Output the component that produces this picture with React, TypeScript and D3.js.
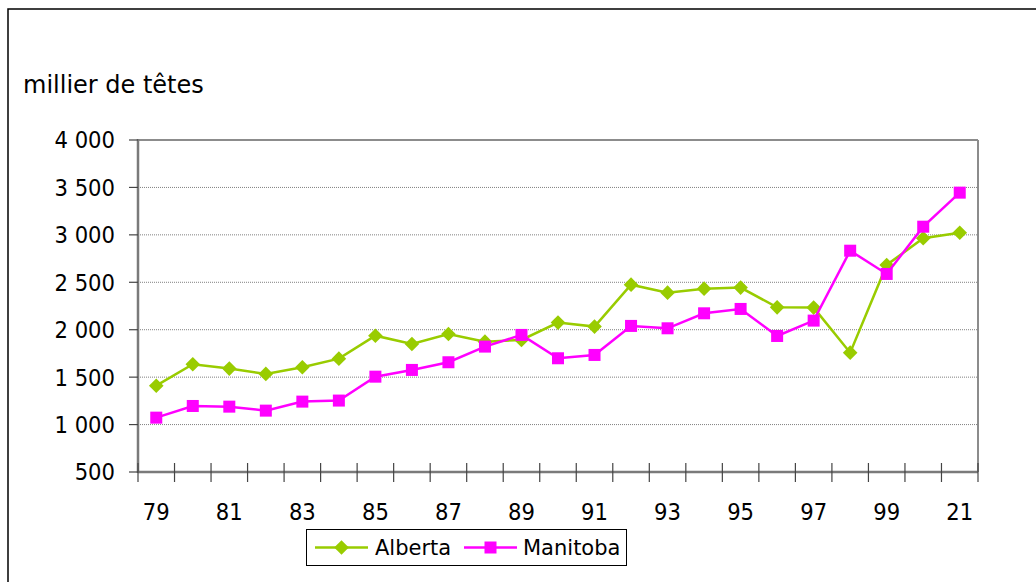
import React from "react";
import * as d3 from "d3";

const categories = ["79","80","81","82","83","84","85","86","87","88","89","90","91","92","93","94","95","96","97","98","99","20","21"];
const tickLabels = ["79","81","83","85","87","89","91","93","95","97","99","21"];
const alberta = [1410,1636,1590,1534,1604,1695,1937,1850,1955,1874,1892,2075,2033,2475,2391,2433,2444,2236,2233,1758,2683,2964,3023];
const manitoba = [1073,1196,1189,1147,1242,1253,1505,1576,1657,1822,1945,1699,1734,2040,2015,2173,2219,1934,2096,2833,2588,3086,3445];
const yTicks = [500,1000,1500,2000,2500,3000,3500,4000];
const yTitle = "millier de têtes";
const seriesNames = ["Alberta", "Manitoba"];
const seriesColors = ["#99CC00", "#FF00FF"];

const FONT = "'DejaVu Sans', Verdana, sans-serif";
const FONT_C = "'DejaVu Sans Condensed', 'DejaVu Sans', sans-serif";
const fmt = (v: number) => d3.format(",")(v).replace(/,/g, " ");

export default function App() {
  const W = 1036, H = 582;
  const left = 138, right = 978, top = 140, bottom = 472;
  const x = d3.scaleBand<string>().domain(categories).range([left, right]).padding(0);
  const y = d3.scaleLinear().domain([500, 4000]).range([bottom, top]);
  const cx = (c: string) => (x(c) as number) + x.bandwidth() / 2;
  const line = d3.line<number>().x((_, i) => cx(categories[i])).y((d) => y(d));
  const boundaries = d3.range(categories.length + 1).map((i) => left + i * x.bandwidth());
  const diamond = (px: number, py: number, r: number) =>
    `M${px},${py - r}L${px + r},${py}L${px},${py + r}L${px - r},${py}Z`;
  const sq = 12;
  const legY = 547.5;

  return (
    <svg width={W} height={H} style={{ position: "absolute", left: 0, top: 0, background: "#fff" }} fontFamily={FONT}>
      <rect x={0} y={0} width={W} height={H} fill="#fff" />
      <rect x={8} y={9} width={1100} height={700} fill="none" stroke="#000" strokeWidth={1.5} />
      <text x={23} y={93} fontSize={24} fill="#000">{yTitle}</text>

      {/* gridlines */}
      {yTicks.filter((t) => t > 500 && t < 4000).map((t) => (
        <line key={"g" + t} x1={left} x2={right} y1={y(t)} y2={y(t)} stroke="#808080" strokeWidth={1} strokeDasharray="1,1" />
      ))}
      {/* plot frame top/right */}
      <line x1={left} x2={right} y1={top} y2={top} stroke="#8c8c8c" strokeWidth={2} />
      <line x1={right} x2={right} y1={top} y2={bottom} stroke="#8c8c8c" strokeWidth={2} />

      {/* y axis */}
      <line x1={left} x2={left} y1={top - 1} y2={bottom + 1} stroke="#7a7a7a" strokeWidth={2.5} />
      {yTicks.map((t) => (
        <g key={"y" + t}>
          <line x1={left - 9} x2={left} y1={y(t)} y2={y(t)} stroke="#444" strokeWidth={1.2} />
          <text x={115} y={y(t)} dy="0.36em" textAnchor="end" fontSize={23.5} fontFamily={FONT_C} fill="#000">{fmt(t)}</text>
        </g>
      ))}

      {/* x axis */}
      <line x1={left} x2={right} y1={bottom} y2={bottom} stroke="#7a7a7a" strokeWidth={2.5} />
      {boundaries.map((bx, i) => (
        <line key={"xt" + i} x1={bx} x2={bx} y1={bottom - 9} y2={bottom + 10} stroke="#444" strokeWidth={1.2} />
      ))}
      {categories.map((c) =>
        tickLabels.includes(c) ? (
          <text key={"xl" + c} x={cx(c)} y={520} textAnchor="middle" fontSize={23.5} fontFamily={FONT_C} fill="#000">{c}</text>
        ) : null
      )}

      {/* series */}
      <path d={line(alberta) || ""} fill="none" stroke={seriesColors[0]} strokeWidth={2.5} />
      {alberta.map((v, i) => (
        <path key={"a" + i} d={diamond(cx(categories[i]), y(v), 7.3)} fill={seriesColors[0]} />
      ))}
      <path d={line(manitoba) || ""} fill="none" stroke={seriesColors[1]} strokeWidth={2.5} />
      {manitoba.map((v, i) => (
        <rect key={"m" + i} x={cx(categories[i]) - sq / 2} y={y(v) - sq / 2} width={sq} height={sq} fill={seriesColors[1]} />
      ))}

      {/* legend */}
      <rect x={306.5} y={529.5} width={320} height={36} fill="#fff" stroke="#000" strokeWidth={1} />
      <line x1={315} x2={368} y1={legY} y2={legY} stroke={seriesColors[0]} strokeWidth={2.5} />
      <path d={diamond(341.5, legY, 7.3)} fill={seriesColors[0]} />
      <text x={375} y={555} fontSize={21} fill="#000">{seriesNames[0]}</text>
      <line x1={464} x2={517} y1={legY} y2={legY} stroke={seriesColors[1]} strokeWidth={2.5} />
      <rect x={490.5 - sq / 2} y={legY - sq / 2} width={sq} height={sq} fill={seriesColors[1]} />
      <text x={523} y={555} fontSize={21} fill="#000">{seriesNames[1]}</text>
    </svg>
  );
}
